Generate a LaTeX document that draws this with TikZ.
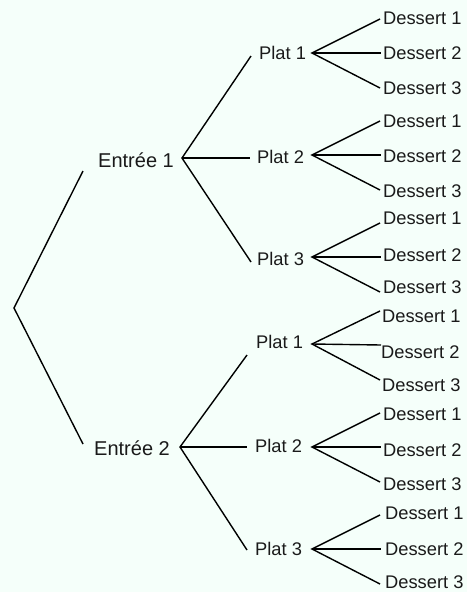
\documentclass[tikz,border=0pt]{standalone}
\usepackage{fontspec}
\setmainfont{Liberation Sans}
\definecolor{bgmint}{HTML}{F5FFFA}
\definecolor{txt}{HTML}{1A1A1A}
\tikzset{
  lbl/.style={anchor=west, inner sep=0pt, text=txt, font=\fontsize{18.3}{20}\selectfont},
  lblbig/.style={lbl, font=\fontsize{20}{22}\selectfont},
  branch/.style={draw=black, line width=1.4pt, line join=miter}
}
\begin{document}
\begin{tikzpicture}[x=1pt,y=-1pt]
\fill[bgmint] (0,0) rectangle (467,592);
\useasboundingbox (0,0) rectangle (467,592);

% texts
\node[lblbig] (e1) at (98,160) {Entrée 1};
\node[lblbig] (e2) at (94,448) {Entrée 2};

\node[lbl] (p11) at (259,53) {Plat 1};
\node[lbl] (p12) at (257,157) {Plat 2};
\node[lbl] (p13) at (257,259) {Plat 3};
\node[lbl] (p21) at (256,342) {Plat 1};
\node[lbl] (p22) at (255,446) {Plat 2};
\node[lbl] (p23) at (255,549) {Plat 3};

\node[lbl] (d111) at (383,18) {Dessert 1};
\node[lbl] (d112) at (383,53) {Dessert 2};
\node[lbl] (d113) at (383,88) {Dessert 3};
\node[lbl] (d121) at (383,121) {Dessert 1};
\node[lbl] (d122) at (383,156) {Dessert 2};
\node[lbl] (d123) at (383,191) {Dessert 3};
\node[lbl] (d131) at (383,218) {Dessert 1};
\node[lbl] (d132) at (383,255) {Dessert 2};
\node[lbl] (d133) at (383,287) {Dessert 3};
\node[lbl] (d211) at (382,316) {Dessert 1};
\node[lbl] (d212) at (381,352) {Dessert 2};
\node[lbl] (d213) at (382,385) {Dessert 3};
\node[lbl] (d221) at (383,414) {Dessert 1};
\node[lbl] (d222) at (383,450) {Dessert 2};
\node[lbl] (d223) at (383,484) {Dessert 3};
\node[lbl] (d231) at (385,513) {Dessert 1};
\node[lbl] (d232) at (385,549) {Dessert 2};
\node[lbl] (d233) at (385,582) {Dessert 3};

% ports
\coordinate (r) at (14,308);
\coordinate (e1in) at (83,171);
\coordinate (e1f) at (182,158);
\coordinate (e2in) at (83,444);
\coordinate (e2f) at (180,447);

\coordinate (p11in) at (251,56);
\coordinate (p12in) at (250,158);
\coordinate (p13in) at (251,262);
\coordinate (p21in) at (247,355);
\coordinate (p22in) at (247,447);
\coordinate (p23in) at (247,550);

\coordinate (p11f) at (312,53);
\coordinate (p12f) at (312,155);
\coordinate (p13f) at (312,257);
\coordinate (p21f) at (312,344);
\coordinate (p22f) at (312,447);
\coordinate (p23f) at (312,549);

\coordinate (d111in) at (380,19);
\coordinate (d112in) at (381,53);
\coordinate (d113in) at (380,88);
\coordinate (d121in) at (380,121);
\coordinate (d122in) at (381,155);
\coordinate (d123in) at (380,190);
\coordinate (d131in) at (380,223);
\coordinate (d132in) at (381,257);
\coordinate (d133in) at (380,292);
\coordinate (d211in) at (380,311);
\coordinate (d212in) at (381,345);
\coordinate (d213in) at (380,380);
\coordinate (d221in) at (380,413);
\coordinate (d222in) at (381,447);
\coordinate (d223in) at (380,482);
\coordinate (d231in) at (380,515);
\coordinate (d232in) at (381,549);
\coordinate (d233in) at (380,584);

% connectors
\draw[branch] (e1in) -- (r) -- (e2in);
\draw[branch] (p11in) -- (e1f) -- (p13in);
\draw[branch] (e1f) -- (p12in);
\draw[branch] (p21in) -- (e2f) -- (p23in);
\draw[branch] (e2f) -- (p22in);

\foreach \g in {11,12,13,21,22,23}{
  \draw[branch] (d\g 1in) -- (p\g f) -- (d\g 3in);
  \draw[branch] (p\g f) -- (d\g 2in);
}
\end{tikzpicture}
\end{document}
